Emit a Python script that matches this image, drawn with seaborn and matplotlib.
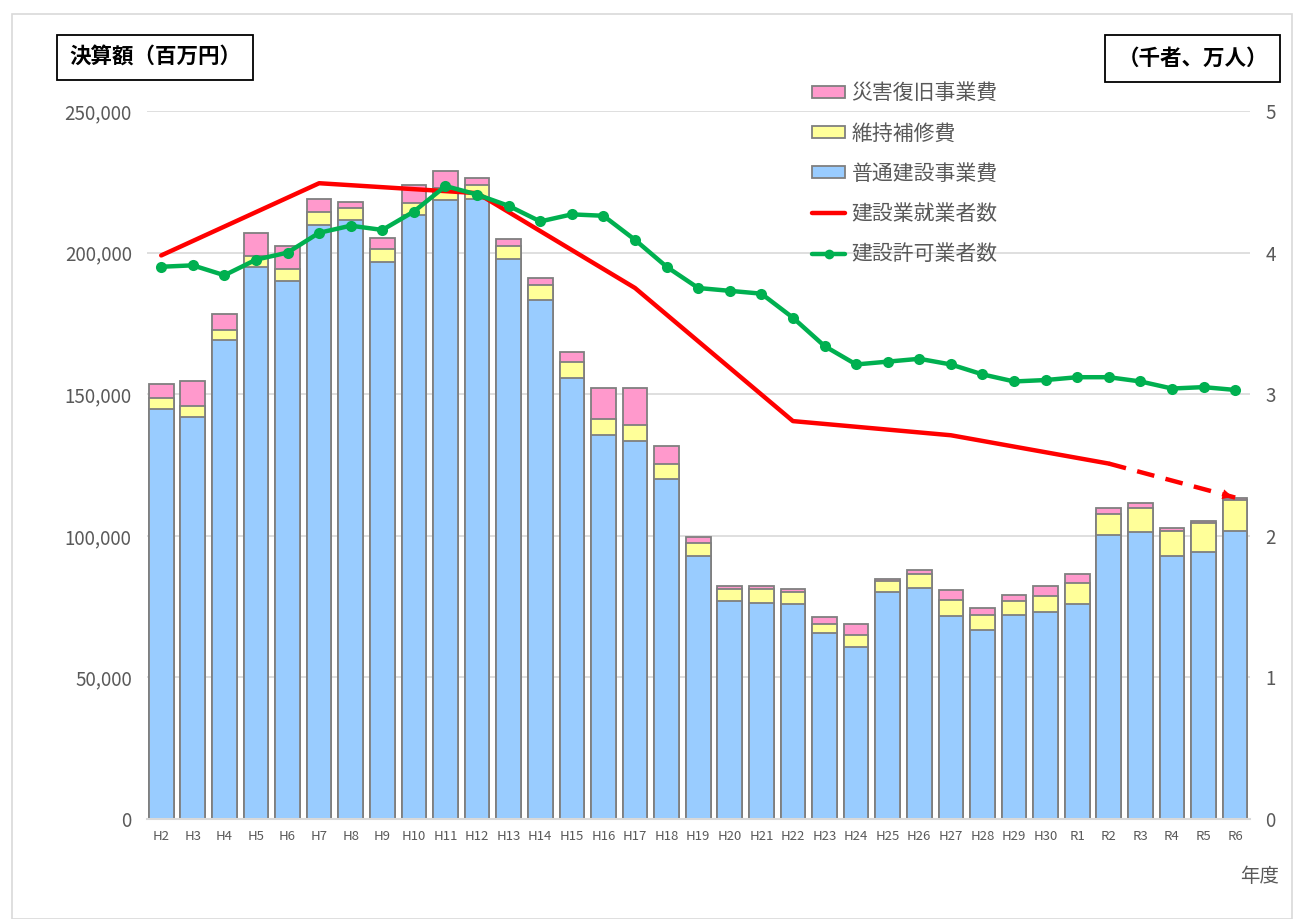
import numpy as np
import matplotlib
matplotlib.use("Agg")
import matplotlib.pyplot as plt
import seaborn as sns
from matplotlib.patches import Patch, Rectangle
from matplotlib.lines import Line2D

# ---------------- data ----------------
years = ['H2', 'H3', 'H4', 'H5', 'H6', 'H7', 'H8', 'H9', 'H10', 'H11', 'H12', 'H13',
         'H14', 'H15', 'H16', 'H17', 'H18', 'H19', 'H20', 'H21', 'H22', 'H23', 'H24',
         'H25', 'H26', 'H27', 'H28', 'H29', 'H30', 'R1', 'R2', 'R3', 'R4', 'R5', 'R6']

# 普通建設事業費 (百万円)
futsu = [144800, 142000, 169000, 194800, 190100, 209900, 211500, 196800, 213200, 218500,
         219000, 197600, 183300, 155800, 135700, 133600, 120000, 92900, 77100, 76200,
         75800, 65700, 60700, 80000, 81500, 71700, 66700, 72000, 73100, 75900,
         100200, 101300, 92900, 94200, 101600]
# 維持補修費
iji = [3900, 3800, 3800, 4000, 4100, 4400, 4300, 4500, 4400, 4400,
       4900, 4800, 5100, 5500, 5400, 5400, 5300, 4700, 4100, 5000,
       4500, 3200, 4300, 4100, 4900, 5700, 5300, 5100, 5700, 7300,
       7500, 8600, 8800, 10200, 11000]
# 災害復旧事業費
saigai = [4900, 9000, 5400, 8200, 8200, 4700, 2200, 4000, 6300, 6000,
          2400, 2500, 2500, 3500, 11000, 13300, 6400, 2100, 1000, 1000,
          1000, 2400, 3900, 700, 1600, 3500, 2600, 2100, 3600, 3200,
          2200, 1800, 900, 800, 800]

# 建設許可業者数 (千者)
kyoka = [3.90, 3.91, 3.84, 3.95, 4.00, 4.14, 4.19, 4.16, 4.29, 4.47,
         4.41, 4.33, 4.22, 4.27, 4.26, 4.09, 3.90, 3.75, 3.73, 3.71,
         3.54, 3.34, 3.21, 3.23, 3.25, 3.21, 3.14, 3.09, 3.10, 3.12,
         3.12, 3.09, 3.04, 3.05, 3.03]

# 建設業就業者数 (万人) - census years
shugyo_years = ['H2', 'H7', 'H12', 'H17', 'H22', 'H27', 'R2']
shugyo = [3.98, 4.49, 4.42, 3.75, 2.81, 2.71, 2.51]
# projection (dashed)
shugyo_proj_years = ['R2', 'R6']
shugyo_proj = [2.51, 2.27]

left_ticks = [0, 50000, 100000, 150000, 200000, 250000]
right_ticks = [0, 1, 2, 3, 4, 5]

legend_labels = ['災害復旧事業費', '維持補修費', '普通建設事業費', '建設業就業者数', '建設許可業者数']

# ---------------- style ----------------
sns.set_theme(style="white")
plt.rcParams['font.family'] = ['Noto Sans CJK JP', 'DejaVu Sans']

C_BLUE = '#99CCFF'
C_YEL = '#FFFF99'
C_PINK = '#FF99CC'
C_EDGE = '#7F7F7F'
C_RED = '#FF0000'
C_GREEN = '#00B050'
C_TXT = '#595959'
C_GRID = '#D9D9D9'

W, H = 1294, 919
fig = plt.figure(figsize=(W / 100, H / 100), dpi=100)
ax = fig.add_axes([147 / W, 1 - 819 / H, (1250 - 147) / W, (819 - 111) / H])

pos = np.arange(len(years))
idx = {y: i for i, y in enumerate(years)}
f = np.array(futsu)
y2 = f + np.array(iji)
y3 = y2 + np.array(saigai)

for vals, col in [(y3, C_PINK), (y2, C_YEL), (f, C_BLUE)]:
    sns.barplot(x=pos, y=vals, native_scale=True, color=col, saturation=1,
                edgecolor=C_EDGE, linewidth=1.3, width=0.78, errorbar=None, ax=ax)

ax.set_ylim(0, 250000)
ax.set_xlim(-0.45, len(years) - 1 + 0.47)
ax.set_yticks(left_ticks)
ax.set_yticklabels([f"{v:,}" for v in left_ticks])
ax.set_xticks(pos)
ax.set_xticklabels(years)
ax.yaxis.grid(True, color=C_GRID, lw=1.2)
ax.set_axisbelow(True)
for s in ['top', 'left', 'right']:
    ax.spines[s].set_visible(False)
ax.spines['bottom'].set_color(C_GRID)
ax.spines['bottom'].set_linewidth(1.5)
ax.tick_params(axis='y', length=0, pad=11, labelsize=13.5, labelcolor=C_TXT)
ax.tick_params(axis='x', length=0, pad=8, labelsize=9.5, labelcolor=C_TXT)
ax.set_xlabel('')
ax.set_ylabel('')

ax2 = ax.twinx()
ax2.set_ylim(0, 5)
ax2.set_yticks(right_ticks)
ax2.set_yticklabels([str(v) for v in right_ticks])
ax2.tick_params(axis='y', length=0, pad=11, labelsize=13.5, labelcolor=C_TXT)
for s in ['top', 'left', 'right', 'bottom']:
    ax2.spines[s].set_visible(False)
ax2.grid(False)

# 建設業就業者数 (solid)
sx = [idx[y] for y in shugyo_years]
sns.lineplot(x=sx, y=shugyo, color=C_RED, lw=3.2, ax=ax2, sort=False)
# projection (dashed) with arrow
px = [idx[y] for y in shugyo_proj_years]
ax2.plot(px, shugyo_proj, color=C_RED, lw=3.2, dashes=(4, 2.6))
slope = (shugyo_proj[1] - shugyo_proj[0]) / (px[1] - px[0])
ax2.annotate('', xy=(px[1], shugyo_proj[1]),
             xytext=(px[1] - 0.6, shugyo_proj[1] - 0.6 * slope),
             arrowprops=dict(arrowstyle='-|>', color=C_RED, lw=0, mutation_scale=18))

# 建設許可業者数
sns.lineplot(x=pos, y=kyoka, color=C_GREEN, lw=3.2, marker='o', markersize=8,
             markeredgewidth=0, ax=ax2)
ax2.set_xlim(ax.get_xlim())
ax2.set_ylabel('')

# legend
handles = [
    Patch(facecolor=C_PINK, edgecolor=C_EDGE, lw=1.3),
    Patch(facecolor=C_YEL, edgecolor=C_EDGE, lw=1.3),
    Patch(facecolor=C_BLUE, edgecolor=C_EDGE, lw=1.3),
    Line2D([], [], color=C_RED, lw=3.2),
    Line2D([], [], color=C_GREEN, lw=3.2, marker='o', markersize=7, markeredgewidth=0),
]
leg = ax2.legend(handles, legend_labels, loc='upper left',
                 bbox_to_anchor=(812 / W, 1 - 82 / H), bbox_transform=fig.transFigure,
                 frameon=False, fontsize=15, labelspacing=0.88, handlelength=1.6,
                 handleheight=0.5, handletextpad=0.3, borderpad=0, borderaxespad=0,
                 labelcolor=C_TXT)

# unit boxes
def box(x0, y0, x1, y1, text):
    fig.patches.append(Rectangle((x0 / W, 1 - y1 / H), (x1 - x0) / W, (y1 - y0) / H,
                                 transform=fig.transFigure, fill=False,
                                 edgecolor='black', lw=1.3))
    fig.text((x0 + x1) / 2 / W, 1 - (y0 + y1) / 2 / H, text, ha='center', va='center',
             fontsize=15.5, fontweight='bold', color='black')

box(57, 35, 253, 80, '決算額（百万円）')
box(1105, 35, 1280, 82, '（千者、万人）')

fig.text(1260 / W, 1 - 876 / H, '年度', ha='center', va='center', fontsize=14, color=C_TXT)

# outer frame
fig.patches.append(Rectangle((12 / W, 0), (1292 - 12) / W, 1 - 14 / H,
                             transform=fig.transFigure, fill=False,
                             edgecolor='#D9D9D9', lw=1.2))

fig.savefig('out.png', dpi=100)
